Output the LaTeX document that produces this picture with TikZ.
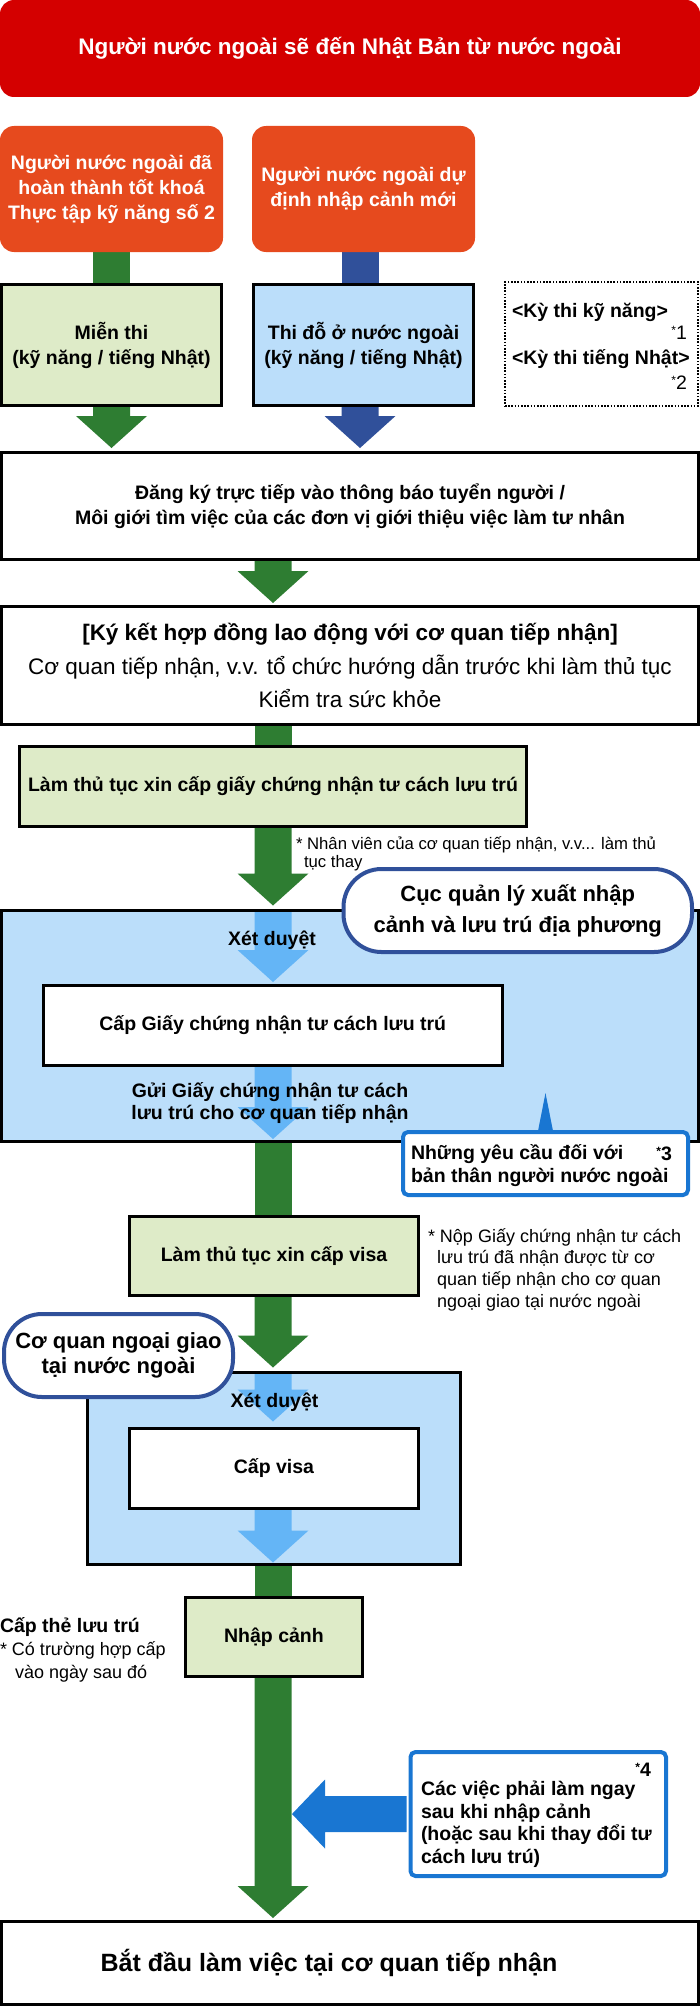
\documentclass[tikz,border=0pt]{standalone}
\usepackage{fontspec}
\setmainfont{Liberation Sans}
\usetikzlibrary{calc}
\pgfdeclarelayer{bg}
\pgfsetlayers{bg,main}
\definecolor{cred}{HTML}{D40000}
\definecolor{corange}{HTML}{E64A1E}
\definecolor{cgreen}{HTML}{2E7D32}
\definecolor{cdblue}{HTML}{30509A}
\definecolor{clblue}{HTML}{64B5F6}
\definecolor{lgreen}{HTML}{DEEBC8}
\definecolor{lblue}{HTML}{BBDEFA}
\definecolor{ccall}{HTML}{1976D2}
\newcommand\mystar{\raisebox{5pt}{\fontsize{12}{12}\selectfont *}}
% block arrow pointing down: colour, start point, tip point
\newcommand\dnarr[3]{\fill[#1] let \p1=#2, \p2=#3 in
  (\x2-18.5pt,\y1) -- (\x2+18.5pt,\y1) -- (\x2+18.5pt,\y2+32pt) -- (\x2+35.5pt,\y2+32pt)
  -- (\x2,\y2) -- (\x2-35.5pt,\y2+32pt) -- (\x2-18.5pt,\y2+32pt) -- cycle;}
\tikzset{
  txt/.style={inner sep=0pt, outer sep=0pt, align=center},
  bx/.style={txt, draw=black, line width=3pt},
  fb/.style={font=\fontsize{19.5}{25}\selectfont\bfseries},
  pill/.style={txt, draw=cdblue, line width=4pt, fill=white, rounded corners=38pt,
    font=\fontsize{22}{31}\selectfont\bfseries},
  callout/.style={draw=ccall, line width=4pt, fill=white, rounded corners=5pt, inner sep=0pt},
  orangebox/.style={txt, fb, fill=corange, text=white, rounded corners=14pt,
    minimum width=223pt, minimum height=126pt},
}
\begin{document}
\begin{tikzpicture}[x=1pt,y=-1pt]
\useasboundingbox (0,0) rectangle (700,2007);
\coordinate (tr) at (273,0);
\coordinate (bl) at (360,0);

% top
\node[txt, fill=cred, rounded corners=14pt, minimum width=700pt, minimum height=97pt,
  text=white, font=\fontsize{22.5}{27}\selectfont\bfseries] (title) at (350,48.5)
  {Người nước ngoài sẽ đến Nhật Bản từ nước ngoài};
\node[orangebox] (o1) at (111.5,189) {Người nước ngoài đã\\hoàn thành tốt khoá\\Thực tập kỹ năng số 2};
\node[orangebox] (o2) at (363.5,189) {Người nước ngoài dự\\định nhập cảnh mới};
\node[bx, fb, fill=lgreen, minimum width=220pt, minimum height=121pt] (m1) at (111.5,345)
  {Miễn thi\\(kỹ năng / tiếng Nhật)};
\node[bx, fb, fill=lblue, minimum width=220pt, minimum height=121pt] (m2) at (363.5,345)
  {Thi đỗ ở nước ngoài\\(kỹ năng / tiếng Nhật)};
\node[draw, line width=1.6pt, dash pattern=on 1.6pt off 1.6pt, minimum width=193pt,
  minimum height=124pt, inner sep=0pt] (kt) at (601.5,344) {};
\node[txt, fb, anchor=west] (kt1) at (512,312) {<Kỳ thi kỹ năng>};
\node[txt, font=\fontsize{19.5}{22}\selectfont, anchor=east] (kt1n) at (687,333) {\mystar1};
\node[txt, fb, anchor=west] (kt2) at (512,359) {<Kỳ thi tiếng Nhật>};
\node[txt, font=\fontsize{19.5}{22}\selectfont, anchor=east] (kt2n) at (687,383) {\mystar2};

\node[bx, fb, fill=white, minimum width=697pt, minimum height=107pt] (d) at (350,506)
  {Đăng ký trực tiếp vào thông báo tuyển người /\\Môi giới tìm việc của các đơn vị giới thiệu việc làm tư nhân};
\node[bx, fill=white, minimum width=697pt, minimum height=118pt,
  font=\fontsize{22.5}{33.5}\selectfont] (k) at (350,665.5)
  {\textbf{[Ký kết hợp đồng lao động với cơ quan tiếp nhận]}\\Cơ quan tiếp nhận, v.v. tổ chức hướng dẫn trước khi làm thủ tục\\Kiểm tra sức khỏe};
\node[bx, fb, fill=lgreen, minimum width=507pt, minimum height=80pt] (g1) at (273,786.5)
  {Làm thủ tục xin cấp giấy chứng nhận tư cách lưu trú};
\node[txt, anchor=west, align=left, font=\fontsize{16.7}{18}\selectfont] (n1) at (296,854)
  {* Nhân viên của cơ quan tiếp nhận, v.v... làm thủ\\\hspace*{8pt}tục thay};

% immigration bureau block
\node[bx, fill=lblue, minimum width=697pt, minimum height=231pt] (B1) at (350,1026) {};
\node[bx, fb, fill=white, minimum width=458.5pt, minimum height=80pt] (w1) at (272.75,1025.5)
  {Cấp Giấy chứng nhận tư cách lưu trú};
\dnarr{clblue}{($(tr |- B1.north)+(0,1.5)$)}{($(tr |- w1.north)+(0,-3.5)$)}
\dnarr{clblue}{($(tr |- w1.south)+(0,1.5)$)}{($(tr |- B1.south)+(0,-2.5)$)}
\node[txt, fb] (xd1) at (272,940) {Xét duyệt};
\node[txt, font=\fontsize{19.5}{22}\selectfont\bfseries] (gui) at (270,1103)
  {Gửi Giấy chứng nhận tư cách\\lưu trú cho cơ quan tiếp nhận};
\node[pill, minimum width=348.5pt, minimum height=83pt] (p1) at (517.75,910.5)
  {Cục quản lý xuất nhập\\cảnh và lưu trú địa phương};
\node[callout, minimum width=285pt, minimum height=63pt] (c3) at (545.5,1163.5) {};
\fill[ccall] ($(c3.north)+(-7.5,1)$) -- ($(c3.north)+(0,-37)$) -- ($(c3.north)+(7.5,1)$) -- cycle;
\node[txt, fb, anchor=west] (c3a) at (411,1154) {Những yêu cầu đối với};
\node[txt, fb, anchor=east] (c3n) at (672,1154) {\mystar3};
\node[txt, fb, anchor=west] (c3b) at (411,1177) {bản thân người nước ngoài};

% visa
\node[bx, fb, fill=lgreen, minimum width=289pt, minimum height=79pt] (g2) at (274,1256)
  {Làm thủ tục xin cấp visa};
\node[txt, anchor=west, align=left, font=\fontsize{18}{21.7}\selectfont] (n2) at (428,1269.5)
  {* Nộp Giấy chứng nhận tư cách\\\hspace*{9pt}lưu trú đã nhận được từ cơ\\\hspace*{9pt}quan tiếp nhận cho cơ quan\\\hspace*{9pt}ngoại giao tại nước ngoài};
\node[bx, fill=lblue, minimum width=373pt, minimum height=192pt] (B2) at (274,1468.5) {};
\node[bx, fb, fill=white, minimum width=289pt, minimum height=80pt] (w2) at (274,1468.5) {Cấp visa};
\dnarr{clblue}{($(tr |- B2.north)+(0,1.5)$)}{($(tr |- w2.north)+(0,-7)$)}
\dnarr{clblue}{($(tr |- w2.south)+(0,1.5)$)}{($(tr |- B2.south)+(0,-2)$)}
\node[txt, fb] (xd2) at (274.5,1402) {Xét duyệt};
\node[pill, minimum width=229pt, minimum height=83pt, font=\fontsize{22}{25}\selectfont\bfseries] (p2) at (118.5,1355.5)
  {Cơ quan ngoại giao\\tại nước ngoài};

% entry
\node[bx, fb, fill=lgreen, minimum width=177pt, minimum height=79pt] (g3) at (274,1637) {Nhập cảnh};
\node[txt, fb, anchor=west] (ct) at (0,1627) {Cấp thẻ lưu trú};
\node[txt, anchor=west, align=left, font=\fontsize{18}{23}\selectfont] (ctn) at (0,1661.5)
  {* Có trường hợp cấp\\\hspace*{15pt}vào ngày sau đó};

\node[callout, minimum width=255.5pt, minimum height=124pt] (c4) at (538.25,1814) {};
\node[txt, fb, anchor=east] (c4n) at (651,1770) {\mystar4};
\node[txt, anchor=west, align=left, font=\fontsize{19.5}{22.5}\selectfont\bfseries] (c4t) at (421,1824)
  {Các việc phải làm ngay\\sau khi nhập cảnh\\(hoặc sau khi thay đổi tư\\cách lưu trú)};
\fill[ccall] let \p1=(c4.west), \p2=(tr) in
  (\x1-2pt,\y1+18pt) -- (\x2+52pt,\y1+18pt) -- (\x2+52pt,\y1+34.5pt) -- (\x2+19pt,\y1)
  -- (\x2+52pt,\y1-34.5pt) -- (\x2+52pt,\y1-18pt) -- (\x1-2pt,\y1-18pt) -- cycle;

\node[bx, fill=white, minimum width=697pt, minimum height=82.5pt] (F) at (350,1962.75) {};
\node[txt, font=\fontsize{25}{30}\selectfont\bfseries] (Ft) at (329,1963)
  {Bắt đầu làm việc tại cơ quan tiếp nhận};

% trunk arrows behind the boxes
\begin{pgfonlayer}{bg}
\fill[cgreen] ($(o1.south)+(-18.5,0)$) rectangle ($(o1.south |- m1.north)+(18.5,0)$);
\fill[cdblue] ($(bl |- o2.south)+(-18.5,0)$) rectangle ($(bl |- m2.north)+(18.5,0)$);
\dnarr{cgreen}{(m1.south)}{($(m1.south |- d.north)+(0,-4.5)$)}
\dnarr{cdblue}{(bl |- m2.south)}{($(bl |- d.north)+(0,-4.5)$)}
\dnarr{cgreen}{(tr |- d.south)}{($(tr |- k.north)+(0,-3.5)$)}
\fill[cgreen] ($(tr |- k.south)+(-18.5,0)$) rectangle ($(tr |- g1.north)+(18.5,0)$);
\dnarr{cgreen}{(tr |- g1.south)}{($(tr |- B1.north)+(0,-5)$)}
\fill[cgreen] ($(tr |- B1.south)+(-18.5,0)$) rectangle ($(tr |- g2.north)+(18.5,0)$);
\dnarr{cgreen}{(tr |- g2.south)}{($(tr |- B2.north)+(0,-5)$)}
\fill[cgreen] ($(tr |- B2.south)+(-18.5,0)$) rectangle ($(tr |- g3.north)+(18.5,0)$);
\dnarr{cgreen}{(tr |- g3.south)}{($(tr |- F.north)+(0,-3.5)$)}
\end{pgfonlayer}
\end{tikzpicture}
\end{document}
